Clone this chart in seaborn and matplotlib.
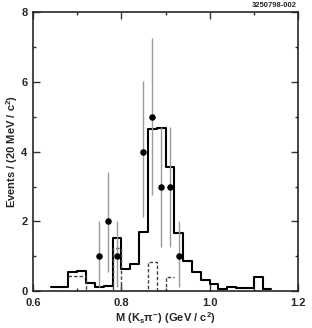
import numpy as np
import pandas as pd
import matplotlib
matplotlib.use("Agg")
import matplotlib.pyplot as plt
from matplotlib.ticker import MultipleLocator, FormatStrFormatter
import seaborn as sns

# Solid histogram (bin lower edges, 20 MeV bins)
solid_lo = [0.64, 0.66, 0.68, 0.70, 0.72, 0.74, 0.76, 0.78, 0.80, 0.82, 0.84, 0.86, 0.88,
            0.90, 0.92, 0.94, 0.96, 0.98, 1.00, 1.02, 1.04, 1.06, 1.08, 1.10, 1.12]
solid_h = [0.10, 0.10, 0.55, 0.57, 0.22, 0.10, 0.14, 1.53, 0.62, 0.77, 1.70, 4.65, 4.67,
           3.56, 1.67, 0.86, 0.53, 0.32, 0.21, 0.06, 0.10, 0.07, 0.07, 0.41, 0.06]

# Dashed histogram
dash_lo = [0.68, 0.70, 0.72, 0.74, 0.76, 0.78, 0.80, 0.82, 0.84, 0.86, 0.88, 0.90]
dash_h = [0.43, 0.43, 0.0, 0.0, 0.0, 1.23, 0.0, 0.0, 0.0, 0.82, 0.0, 0.41]

# Data points
pt_x = [0.75, 0.77, 0.79, 0.85, 0.87, 0.89, 0.91, 0.93]
pt_y = [1, 2, 1, 4, 5, 3, 3, 1]
pt_lo = [0.10, 0.55, 0.10, 2.13, 2.77, 1.27, 1.27, 0.10]
pt_hi = [2.00, 3.43, 2.00, 6.03, 7.26, 4.72, 4.72, 2.00]

BW = 0.02

sns.set_style("ticks")
plt.rcParams['font.family'] = ['Liberation Sans', 'DejaVu Sans']
plt.rcParams['mathtext.fontset'] = 'custom'
plt.rcParams['mathtext.rm'] = 'Liberation Sans:bold'
plt.rcParams['mathtext.it'] = 'Liberation Sans:bold'
plt.rcParams['mathtext.bf'] = 'Liberation Sans:bold'

fig = plt.figure(figsize=(3.12, 3.28), dpi=100)
ax = fig.add_axes([0.106, 0.113, 0.849, 0.849])

def edges_from(lo):
    return list(lo) + [lo[-1] + BW]

ds = pd.DataFrame({"x": np.array(solid_lo) + BW / 2, "w": solid_h})
sns.histplot(data=ds, x="x", weights="w", bins=edges_from(solid_lo), element="step",
             fill=False, color="black", linewidth=1.5, ax=ax)
dd = pd.DataFrame({"x": np.array(dash_lo) + BW / 2, "w": dash_h})
sns.histplot(data=dd, x="x", weights="w", bins=edges_from(dash_lo), element="step",
             fill=False, color="#444444", linewidth=1.0, linestyle=(0, (2.5, 1.5)), ax=ax)

yerr = [np.array(pt_y) - np.array(pt_lo), np.array(pt_hi) - np.array(pt_y)]
ax.errorbar(pt_x, pt_y, yerr=yerr, fmt='none', ecolor='#9a9a9a', elinewidth=1.0, capsize=0, zorder=3)
sns.scatterplot(x=pt_x, y=pt_y, color='black', s=22, edgecolor='black', linewidth=0, ax=ax, zorder=4)

ax.set_xlim(0.6, 1.2)
ax.set_ylim(0, 8)
ax.xaxis.set_major_locator(MultipleLocator(0.2))
ax.xaxis.set_minor_locator(MultipleLocator(0.1))
ax.yaxis.set_major_locator(MultipleLocator(2))
ax.yaxis.set_minor_locator(MultipleLocator(1))
ax.xaxis.set_major_formatter(FormatStrFormatter('%.1f'))
ax.yaxis.set_major_formatter(FormatStrFormatter('%d'))
ax.tick_params(which='both', direction='in', top=True, right=True, width=1.0, color='#333333')
ax.tick_params(which='major', length=5, labelsize=8)
ax.tick_params(axis='x', which='major', pad=5)
ax.tick_params(axis='y', which='major', pad=4)
ax.tick_params(which='minor', length=2.5)
for lab in ax.get_xticklabels() + ax.get_yticklabels():
    lab.set_fontweight('bold')
for s in ax.spines.values():
    s.set_linewidth(1.2)
    s.set_visible(True)

ax.set_xlabel(r"M (K$_{\rm s}\pi^{-}$) (GeV / c$^{2}$)", fontsize=8, fontweight='bold', labelpad=2)
ax.set_ylabel(r"Events / (20 MeV / c$^{2}$)", fontsize=8, fontweight='bold', labelpad=1)
fig.text(0.952, 0.972, "3250798-002", fontsize=5.5, fontweight='bold', ha='right', va='bottom')

fig.savefig("out.png", dpi=100)
